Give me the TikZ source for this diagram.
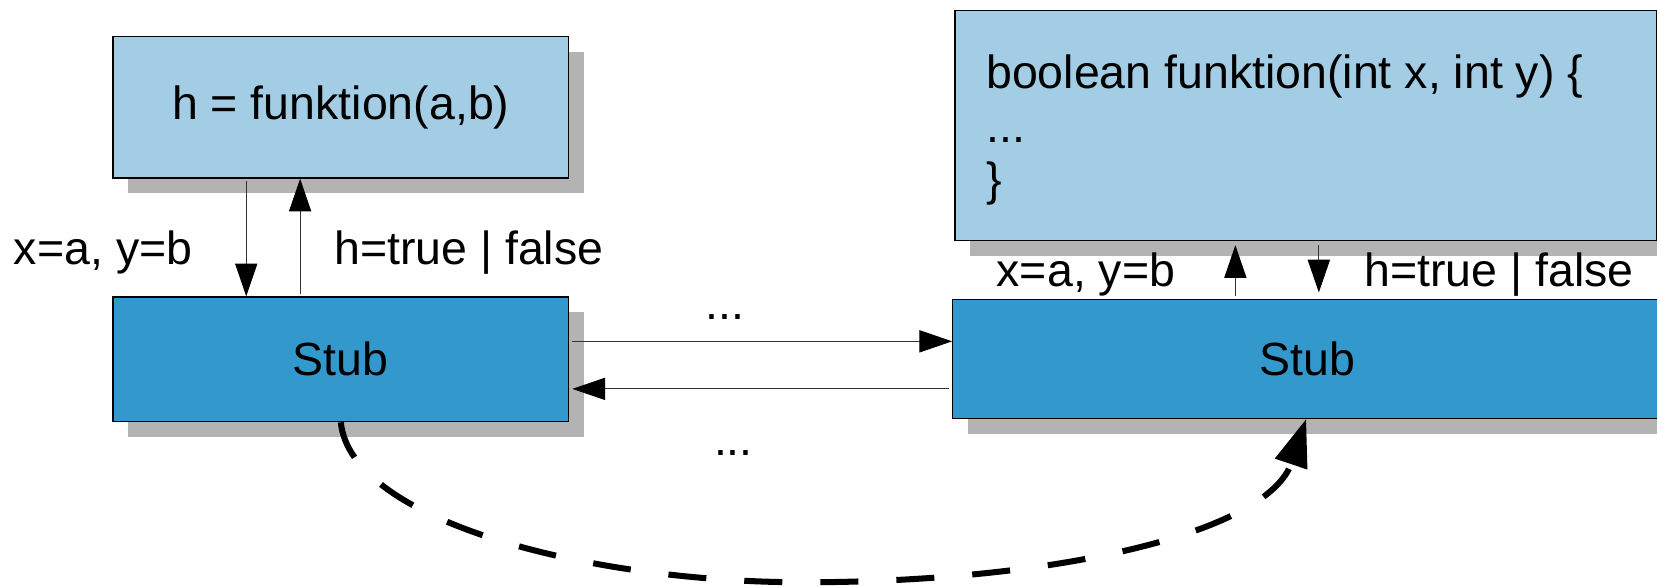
\documentclass[tikz,border=0pt]{standalone}
\usepackage{fontspec}
\setmainfont{Liberation Sans}
\usetikzlibrary{arrows.meta,shadows}
\definecolor{lightbox}{RGB}{162,205,228}
\definecolor{stubblue}{RGB}{51,152,204}
\definecolor{shadowgray}{RGB}{179,179,179}
\begin{document}
\begin{tikzpicture}[x=1pt,y=1pt,
  txt/.style={font=\fontsize{44}{51}\selectfont, inner sep=0pt},
  box/.style={draw=black, line width=1.2pt, rectangle, inner sep=0pt, txt,
    general shadow={fill=shadowgray, shadow xshift=14.5pt, shadow yshift=-14.5pt}},
  callbox/.style={box, fill=lightbox},
  stubbox/.style={box, fill=stubblue},
  flow/.style={draw=black!80, line width=1pt, -{Triangle[length=31pt,width=21pt,color=black]}},
  jump/.style={line width=5.7pt, dash pattern=on 36pt off 36pt, -{Triangle[length=45pt,width=31pt]}},
]
\useasboundingbox (0,0) rectangle (1568,554);

% boxes
\node[callbox, minimum width=431pt, minimum height=134pt] (call) at (322.5,452.5) {h = funktion(a,b)};
\node[stubbox, minimum width=431pt, minimum height=118pt] (lstub) at (322.5,214) {Stub};
\node[callbox, minimum width=664pt, minimum height=218pt, anchor=south west] (def) at (903,325.5) {};
\node[stubbox, minimum width=671pt, minimum height=112.5pt, anchor=south west] (rstub) at (901,157.5) {Stub};

% function body
\node[txt, anchor=base west] (sig) at (933,470.5) {boolean funktion(int x, int y) \{};
\node[txt, anchor=base west] (body) at (933,419) {...};
\node[txt, anchor=base west] (close) at (933,369) {\}};

% labels
\node[txt, anchor=base west] (largs) at (13,304) {x=a, y=b};
\node[txt, anchor=base west] (lret) at (316,304) {h=true | false};
\node[txt, anchor=base west] (rargs) at (943,283) {x=a, y=b};
\node[txt, anchor=base west] (rret) at (1291,283) {h=true | false};
\node[txt, anchor=base] (dotsup) at (686,252) {...};
\node[txt, anchor=base] (dotsdown) at (694,123) {...};

% connector columns and rows
\coordinate (colA) at (233,0);
\coordinate (colB) at (284,0);
\coordinate (colC) at (1169,0);
\coordinate (colD) at (1248,0);
\coordinate (colE) at (1236,0);
\coordinate (rowA) at (0,231);
\coordinate (rowB) at (0,186);

% connectors
\draw[flow, shorten <=2.5pt] (call.south -| colA) -- (lstub.north -| colA);
\draw[flow, shorten <=2pt] (lstub.north -| colB) -- (call.south -| colB);
\draw[flow, shorten <=3pt] (lstub.east |- rowA) -- (rstub.west |- rowA);
\draw[flow, shorten <=3pt, shorten >=3pt] (rstub.west |- rowB) -- (lstub.east |- rowB);
\draw[flow, shorten <=3pt, shorten >=3.5pt] (rstub.north -| colC) -- (def.south -| colC);
\draw[flow, shorten <=3.5pt, shorten >=6pt] (def.south -| colD) -- (rstub.north -| colD);

\draw[jump] (lstub.south) .. controls (332,60) and (560,3) .. (760,3)
  .. controls (1000,3) and (1200,50) .. (rstub.south -| colE);
\end{tikzpicture}
\end{document}
